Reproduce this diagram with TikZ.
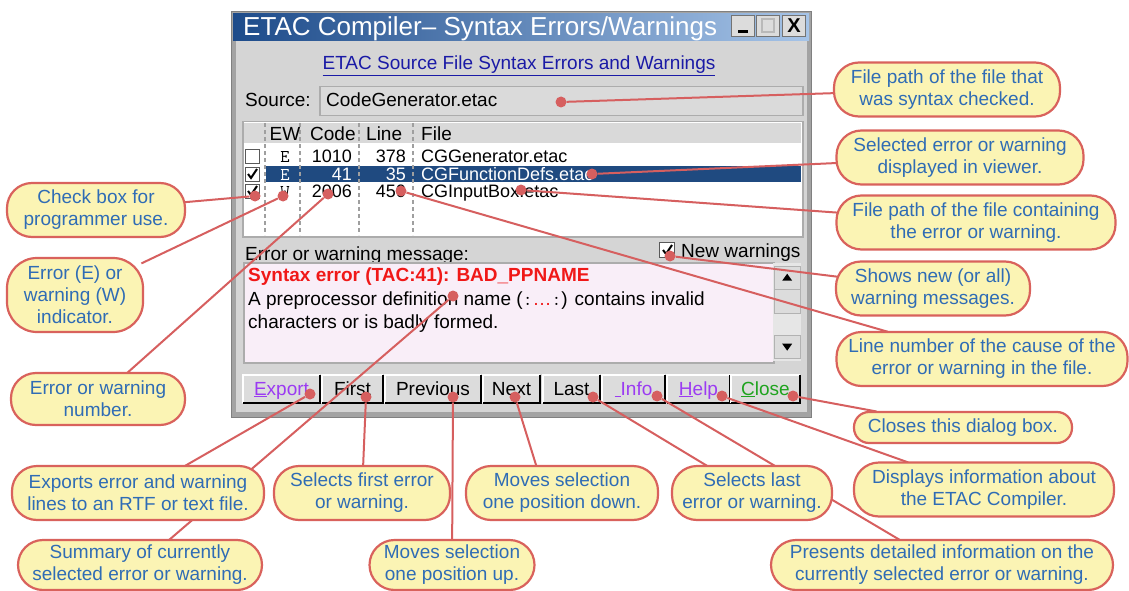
\documentclass[tikz,border=0pt]{standalone}
\usepackage{fontspec}
\setmainfont{Liberation Sans}
\usepackage{xcolor}
\usepackage{tikz}
\usetikzlibrary{backgrounds}
\definecolor{calloutfill}{HTML}{FBF4B4}
\definecolor{calloutdraw}{HTML}{D9625C}
\definecolor{callouttext}{HTML}{2F6CB5}
\definecolor{leadred}{HTML}{D65F5F}
\definecolor{winframe}{HTML}{A3A3A3}
\definecolor{winedge}{HTML}{808080}
\definecolor{wingray}{HTML}{D5D5D5}
\definecolor{fieldgray}{HTML}{DADADA}
\definecolor{headgray}{HTML}{D9D9D9}
\definecolor{btnface}{HTML}{DCDCDC}
\definecolor{trackgray}{HTML}{E6E6E6}
\definecolor{titledark}{HTML}{1D4B8A}
\definecolor{titlelight}{HTML}{A6C4E8}
\definecolor{selblue}{HTML}{1F4A80}
\definecolor{msgpink}{HTML}{F9EEF8}
\definecolor{linkblue}{HTML}{1A1AA6}
\definecolor{accpurple}{HTML}{9B3BF2}
\definecolor{accgreen}{HTML}{1FA31F}
\definecolor{errred}{HTML}{F01818}
\pgfdeclarelayer{front}
\pgfsetlayers{main,front}

\begin{document}
\begin{tikzpicture}[
  x=1pt,y=-1pt,
  font=\fontsize{19}{22}\selectfont,
  callout/.style={draw=calloutdraw,fill=calloutfill,line width=2.2pt,rounded corners=25pt,minimum height=54pt,text=callouttext,align=center,inner sep=0pt},
  callout1/.style={callout,rounded corners=15pt,minimum height=31pt},
  callout3/.style={callout,rounded corners=30pt,minimum height=74pt},
  dot/.style={circle,fill=leadred,inner sep=0pt,minimum size=11pt},
  lead/.style={draw=leadred,line width=2pt,shorten >=-3pt},
  txt/.style={inner sep=0pt,anchor=base west},
  rowtxt/.style={txt,font=\fontsize{18}{18}\selectfont},
  chkbox/.style={draw=gray!70!black,fill=white,minimum size=14pt,inner sep=0pt,line width=1pt},
  tickmark/.style={line width=2pt,black},
  btn/.style={fill=btnface,minimum height=28pt,inner sep=0pt},
  tbtn/.style={draw=black!55,fill=btnface,minimum width=23pt,minimum height=21pt,inner sep=0pt,line width=1pt},
  colsep/.style={draw=gray!75,line width=1.5pt,dash pattern=on 4pt off 3pt},
  sunken/.style={draw=gray!65,line width=1.5pt,inner sep=0pt,anchor=north west}
]
\useasboundingbox (0,0) rectangle (1129,591);

% Window
\node[draw=winedge,fill=winframe,line width=1pt,minimum width=580pt,minimum height=406pt,anchor=north west,inner sep=0pt] (win) at (231,11) {};
\node[fill=wingray,minimum width=571pt,minimum height=372pt,anchor=north west,inner sep=0pt] (body) at (235.5,40) {};
\node[left color=titledark,right color=titlelight,minimum width=576pt,minimum height=27pt,anchor=north west,inner sep=0pt] (tbar) at (233,13) {};
\node[txt,text=white,font=\fontsize{26}{26}\selectfont] (title) at (243,36) {ETAC Compiler– Syntax Errors/Warnings};
\node[tbtn] (tbMin) at (743,26) {};
\draw[line width=3pt] (738,32) -- (748,32);
\node[tbtn] (tbMax) at (768,26) {};
\draw[gray!55,line width=1.5pt] (762,19) rectangle (774,32);
\node[tbtn,font=\bfseries\fontsize{20}{20}\selectfont] (tbClose) at (794,26) {X};

% Source
\node[txt,text=linkblue,anchor=base] (link) at (519,70) {\underline{ETAC Source File Syntax Errors and Warnings}};
\node[txt] (srcLbl) at (245,107) {Source:};
\node[sunken,fill=fieldgray,minimum width=483pt,minimum height=29pt] (srcBox) at (319,86) {};
\node[txt] (srcTxt) at (326,107) {CodeGenerator.etac};

% List
\node[sunken,fill=white,minimum width=560pt,minimum height=115pt] (list) at (242,121) {};
\node[fill=headgray,minimum width=557pt,minimum height=20pt,anchor=north west,inner sep=0pt] (head) at (243.5,122.5) {};
\node[fill=selblue,minimum width=535pt,minimum height=16pt,anchor=north west,inner sep=0pt] (selRow) at (266,166) {};
\foreach \x in {265,300,359,413}
  \draw[colsep] (\x,123) -- (\x,235);
\node[txt,anchor=base] (hEW) at (285,140) {EW};
\node[txt] (hCode) at (310,140) {Code};
\node[txt] (hLine) at (366,140) {Line};
\node[txt] (hFile) at (421,140) {File};
\foreach \yy/\ew/\cd/\lno/\fname/\col/\chk [count=\i] in {162/E/1010/378/CGGenerator.etac/black/0, 180/E/41/35/CGFunctionDefs.etac/white/1, 197/W/2006/450/CGInputBox.etac/black/1}{
  \node[chkbox] (chk\i) at (252,\yy-6) {};
  \ifnum\chk=1 \draw[tickmark] ([xshift=-4pt]chk\i.center) -- ++(3,4) -- ++(6,-9); \fi
  \node[rowtxt,anchor=base,text=\col] (ew\i) at (285,\yy) {\ttfamily\ew};
  \node[rowtxt,anchor=base east,text=\col] (code\i) at (352,\yy) {\cd};
  \node[rowtxt,anchor=base east,text=\col] (line\i) at (406,\yy) {\lno};
  \node[rowtxt,text=\col] (file\i) at (421,\yy) {\fname};
}

% Message
\node[txt] (msgLbl) at (245,260) {Error or warning message:};
\node[chkbox,minimum size=15pt] (nwBox) at (667,250) {};
\draw[tickmark] ([xshift=-4pt]nwBox.center) -- ++(3,4) -- ++(6,-9);
\node[txt] (nwTxt) at (681,257) {New warnings};
\node[sunken,fill=msgpink,minimum width=530pt,minimum height=100pt] (msg) at (243,262) {};
\node[fill=trackgray,minimum width=28pt,minimum height=98pt,anchor=north west,inner sep=0pt] (track) at (773,263) {};
\node[btn,draw=gray!60,minimum width=26pt,minimum height=23pt,anchor=north west] (sbUp) at (774,266) {};
\fill (sbUp.center) ++(-5,3) -- ++(10,0) -- ++(-5,-7) -- cycle;
\node[btn,draw=gray!60,minimum width=26pt,minimum height=24pt,anchor=north west] (sbThumb) at (774,289) {};
\node[btn,draw=gray!60,minimum width=26pt,minimum height=23pt,anchor=north west] (sbDown) at (774,335) {};
\fill (sbDown.center) ++(-5,-3) -- ++(10,0) -- ++(-5,7) -- cycle;
\node[txt,text=errred,font=\bfseries\fontsize{19}{22}\selectfont] (msg1) at (248,281) {Syntax error (TAC:41): BAD\_PPNAME};
\node[txt] (msg2) at (248,305) {A preprocessor definition name ({\ttfamily :}\textcolor{errred}{\ldots}{\ttfamily :}) contains invalid};
\node[txt] (msg3) at (248,328) {characters or is badly formed.};

% Buttons
\foreach \a/\b/\nm/\lbl in {243/320/bExport/{\textcolor{accpurple}{\underline{E}xport}}, 322/383/bFirst/First, 385/481/bPrev/Previous, 483/540/bNext/Next, 543/600/bLast/Last, 602/665/bInfo/{\textcolor{accpurple}{\underline{\hspace{6pt}}Info}}, 667/730/bHelp/{\textcolor{accpurple}{\underline{H}elp}}, 731/800/bClose/{\textcolor{accgreen}{\underline{C}lose}}}{
  \node[btn,minimum width=\b-\a,anchor=north west] (\nm) at (\a,375) {};
  \draw[white,line width=1.5pt] (\nm.south west) |- (\nm.north east);
  \draw[black,line width=2pt] (\nm.south west) -| (\nm.north east);
  \node[txt,anchor=base] (\nm t) at ({(\a+\b)/2},395) {\lbl};
}

% Dots
\node[dot] (dSource) at (561,102) {};
\node[dot] (dSel) at (592,174) {};
\node[dot] (dPath) at (521,190) {};
\node[dot] (dNew) at (670,256) {};
\node[dot] (dLine) at (401,191) {};
\node[dot] (dClose) at (793,396) {};
\node[dot] (dHelp) at (722,396) {};
\node[dot] (dInfo) at (657,396) {};
\node[dot] (dLast) at (593,397) {};
\node[dot] (dNext) at (515,397) {};
\node[dot] (dPrev) at (453,397) {};
\node[dot] (dFirst) at (366,397) {};
\node[dot] (dExport) at (310,394) {};
\node[dot] (dMsg) at (453,296) {};
\node[dot] (dCheck) at (255,196) {};
\node[dot] (dEW) at (283,196) {};
\node[dot] (dCode) at (328,194) {};

% Callouts
\begin{pgfonlayer}{front}
\node[callout,minimum width=226pt] (cFile) at (947,89.5) {File path of the file that\\was syntax checked.};
\node[callout,minimum width=247pt] (cSel) at (960,157.5) {Selected error or warning\\displayed in viewer.};
\node[callout,minimum width=279pt] (cPath) at (976,222.5) {File path of the file containing\\the error or warning.};
\node[callout,minimum width=194pt] (cNew) at (933,288.5) {Shows new (or all)\\warning messages.};
\node[callout,minimum width=291pt] (cLine) at (982,359) {Line number of the cause of the\\error or warning in the file.};
\node[callout1,minimum width=218pt] (cClose) at (963,427.5) {Closes this dialog box.};
\node[callout,minimum width=260pt] (cInfo) at (984,489.5) {Displays information about\\the ETAC Compiler.};
\node[callout,minimum width=160pt] (cLast) at (752,493) {Selects last\\error or warning.};
\node[callout,minimum width=342pt,minimum height=50pt] (cDetail) at (942,565) {Presents detailed information on the\\currently selected error or warning.};
\node[callout,minimum width=192pt] (cDown) at (562,493) {Moves selection\\one position down.};
\node[callout,minimum width=176pt] (cFirst) at (362,493) {Selects first error\\or warning.};
\node[callout,minimum width=252pt] (cExport) at (138,493) {Exports error and warning\\lines to an RTF or text file.};
\node[callout,minimum width=244pt,minimum height=50pt] (cSummary) at (140,565) {Summary of currently\\selected error or warning.};
\node[callout,minimum width=165pt,minimum height=50pt] (cUp) at (452,565) {Moves selection\\one position up.};
\node[callout,minimum width=178pt] (cCheck) at (96,210) {Check box for\\programmer use.};
\node[callout3,minimum width=136pt] (cEW) at (75,295) {Error (E) or\\warning (W)\\indicator.};
\node[callout,minimum width=174pt,minimum height=52pt] (cNum) at (98,399) {Error or warning\\number.};
\end{pgfonlayer}

% Leaders
\draw[lead] (dSource) -- (cFile);
\draw[lead] (dSel) -- (cSel);
\draw[lead] (dPath) -- (cPath);
\draw[lead] (dNew) -- (cNew);
\draw[lead] (dLine) -- (cLine);
\draw[lead] (dClose) -- (cClose);
\draw[lead] (dHelp) -- (cInfo);
\draw[lead] (dInfo) -- (cDetail);
\draw[lead] (dLast) -- (cLast);
\draw[lead] (dNext) -- ([xshift=-26pt]cDown.north);
\draw[lead] (dPrev) -- (cUp);
\draw[lead] (dFirst) -- (cFirst);
\draw[lead] (dExport) -- (cExport);
\draw[lead] (dMsg) -- (cSummary);
\draw[lead] (dCheck) -- (cCheck);
\draw[lead] (dEW) -- (cEW);
\draw[lead] (dCode) -- (cNum);

\end{tikzpicture}
\end{document}
